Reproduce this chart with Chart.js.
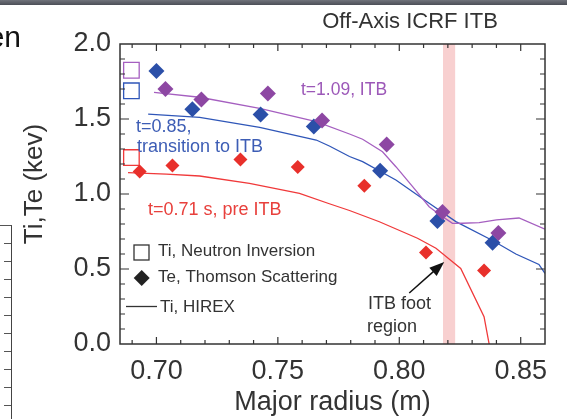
<!DOCTYPE html>
<html>
<head>
<meta charset="utf-8">
<script src="https://cdn.jsdelivr.net/npm/chart.js@4.4.0/dist/chart.umd.min.js"></script>
<style>
  html, body { margin: 0; padding: 0; background: #fff; }
  #wrap { position: relative; width: 567px; height: 419px; overflow: hidden; font-family: "Liberation Sans", Arial, sans-serif; }
  #topband { position: absolute; left: 0; top: 0; width: 567px; height: 5px; background: linear-gradient(#70737b, #4c4f57); }
  #en { position: absolute; right: 546px; top: 20px; font-size: 30px; color: #111; white-space: nowrap; }
  #sideaxis { position: absolute; left: 0; top: 225px; width: 11px; height: 194px; border-top: 1px solid #555; border-right: 1.5px solid #444; }
  #sideticks { position: absolute; left: 4px; top: 0; width: 7px; height: 100%;
    background: repeating-linear-gradient(to bottom, transparent 0 17px, #555 17px 18px); }
  canvas { position: absolute; left: 0; top: 0; }
</style>
</head>
<body>
<div id="wrap">
  <canvas id="itbChart" width="567" height="419"></canvas>
  <div id="topband"></div>
  <div id="en">en</div>
  <div id="sideaxis"><div id="sideticks"></div></div>
</div>
<script>
// Te, Thomson scattering (diamonds)
const teR109 = [0.7037, 0.7185, 0.7459, 0.7682, 0.7948, 0.8178, 0.8408];
const teV109 = [1.70, 1.63, 1.67, 1.49, 1.33, 0.88, 0.74];
const teR085 = [0.7000, 0.7148, 0.7429, 0.7648, 0.7921, 0.8157, 0.8384];
const teV085 = [1.82, 1.565, 1.53, 1.45, 1.155, 0.82, 0.675];
const teR071 = [0.6931, 0.7066, 0.7346, 0.7582, 0.7856, 0.8110, 0.8349];
const teV071 = [1.15, 1.19, 1.23, 1.18, 1.055, 0.61, 0.49];

// Ti, neutron inversion (open squares) : t=1.09, 0.85, 0.71
const tiNeutronR = [0.6897, 0.6897, 0.6897];
const tiNeutronV = [1.825, 1.688, 1.243];

// Ti, HIREX (lines)
const hxR109 = [0.699, 0.7178, 0.7425, 0.7658, 0.7795, 0.7849, 0.7931, 0.7986, 0.8055, 0.8123, 0.8178, 0.8219, 0.8260, 0.8329, 0.8400, 0.8493, 0.8600];
const hxV109 = [1.678, 1.645, 1.571, 1.482, 1.40, 1.365, 1.282, 1.182, 1.049, 0.915, 0.849, 0.804, 0.805, 0.809, 0.827, 0.840, 0.765];
const hxR085 = [0.6966, 0.7178, 0.7425, 0.7658, 0.7712, 0.7795, 0.7849, 0.7986, 0.8123, 0.8233, 0.8384, 0.8480, 0.8575, 0.8600];
const hxV085 = [1.533, 1.511, 1.444, 1.36, 1.32, 1.25, 1.216, 1.093, 0.938, 0.816, 0.69, 0.60, 0.53, 0.47];
const hxR071 = [0.6883, 0.7041, 0.7178, 0.7383, 0.7589, 0.7712, 0.7795, 0.7918, 0.8075, 0.8151, 0.8219, 0.8253, 0.8349, 0.8370];
const hxV071 = [1.142, 1.133, 1.12, 1.071, 1.004, 0.935, 0.89, 0.815, 0.705, 0.638, 0.549, 0.504, 0.182, 0.0];

const xTicks = [0.70, 0.75, 0.80, 0.85];
const yTicks = [0.0, 0.5, 1.0, 1.5, 2.0];
const footBand = [0.818, 0.823];

const PURPLE = '#8d47a3', PURPLE_LINE = '#a55fc0';
const BLUE = '#2b4fa8', BLUE_LINE = '#2f56b8';
const RED = '#e8302b', RED_LINE = '#f0393a';
const INK = '#333';
const FONT = '"Liberation Sans", Arial, sans-serif';

const pts = (xs, ys) => xs.map((x, i) => ({ x: x, y: ys[i] }));

function diamonds(label, xs, ys, color, r, order) {
  return { type: 'scatter', label: label, data: pts(xs, ys), pointStyle: 'rectRot',
    pointRadius: r, pointBackgroundColor: color, pointBorderColor: color, pointBorderWidth: 0, order: order };
}
function hirex(label, xs, ys, color) {
  return { type: 'line', label: label, data: pts(xs, ys), borderColor: color, borderWidth: 1.3,
    pointRadius: 0, tension: 0, fill: false, order: 5 };
}

// band, frame, inward ticks, labels, arrow
const decor = {
  id: 'decor',
  beforeDatasetsDraw(chart) {
    const { ctx, chartArea: a, scales: { x } } = chart;
    ctx.save();
    ctx.fillStyle = 'rgba(240,150,150,0.45)';
    const x0 = x.getPixelForValue(footBand[0]), x1 = x.getPixelForValue(footBand[1]);
    ctx.fillRect(x0, a.top, x1 - x0, a.bottom - a.top);
    ctx.restore();
  },
  afterDatasetsDraw(chart) {
    const { ctx, chartArea: a, scales: { x, y } } = chart;
    ctx.save();
    ctx.strokeStyle = INK;
    ctx.lineWidth = 1.5;
    ctx.strokeRect(a.left, a.top, a.right - a.left, a.bottom - a.top);
    ctx.lineWidth = 1.2;
    ctx.beginPath();
    for (let k = 69; k <= 86; k++) {
      const v = k / 100, px = x.getPixelForValue(v);
      if (px < a.left + 2 || px > a.right - 2) continue;
      const len = (k % 5 === 0) ? 7 : 4;
      ctx.moveTo(px, a.bottom); ctx.lineTo(px, a.bottom - len);
      ctx.moveTo(px, a.top); ctx.lineTo(px, a.top + len);
    }
    for (let k = 1; k < 20; k++) {
      const py = y.getPixelForValue(k / 10);
      const len = (k % 5 === 0) ? 9 : 5;
      ctx.moveTo(a.left, py); ctx.lineTo(a.left + len, py);
      ctx.moveTo(a.right, py); ctx.lineTo(a.right - len, py);
    }
    ctx.stroke();
    ctx.restore();
  },
  afterDraw(chart) {
    const { ctx, scales: { x, y } } = chart;
    ctx.save();
    ctx.textBaseline = 'middle';
    ctx.textAlign = 'center';
    ctx.fillStyle = INK;
    ctx.font = '22px ' + FONT;
    ctx.fillText('Off-Axis ICRF ITB', 410, 22);

    // y axis title
    ctx.save();
    ctx.translate(35, 184);
    ctx.rotate(-Math.PI / 2);
    ctx.font = '26px ' + FONT;
    ctx.fillText('Ti,Te (kev)', 0, 0);
    ctx.restore();

    ctx.textAlign = 'left';
    ctx.font = '17.5px ' + FONT;
    ctx.fillStyle = '#9c58b8';
    ctx.fillText('t=1.09, ITB', 301, 90);
    ctx.font = '18px ' + FONT;
    ctx.fillStyle = '#3d5db5';
    ctx.fillText('t=0.85,', 136, 127);
    ctx.fillText('transition to ITB', 137, 147);
    ctx.fillStyle = '#e8403c';
    ctx.fillText('t=0.71 s, pre ITB', 148, 210);

    // legend
    ctx.fillStyle = INK;
    ctx.font = '17px ' + FONT;
    ctx.fillText('Ti, Neutron Inversion', 158, 251);
    ctx.fillText('Te, Thomson Scattering', 158, 277);
    ctx.fillText('Ti, HIREX', 160, 307);
    ctx.strokeStyle = INK;
    ctx.lineWidth = 1.3;
    ctx.strokeRect(134, 245, 15, 15);
    ctx.fillStyle = '#222';
    ctx.beginPath();
    ctx.moveTo(141.7, 270); ctx.lineTo(149.7, 278); ctx.lineTo(141.7, 286); ctx.lineTo(133.7, 278);
    ctx.closePath(); ctx.fill();
    ctx.beginPath();
    ctx.moveTo(126, 306.5); ctx.lineTo(157, 306.5); ctx.stroke();

    // ITB foot annotation
    ctx.fillStyle = INK;
    ctx.font = '18px ' + FONT;
    ctx.fillText('ITB foot', 368, 304);
    ctx.fillText('region', 367, 327);
    const tx = x.getPixelForValue(0.8041), ty = y.getPixelForValue(0.34);
    const hx = x.getPixelForValue(0.8185), hy = y.getPixelForValue(0.547);
    const ang = Math.atan2(hy - ty, hx - tx);
    ctx.strokeStyle = '#111';
    ctx.lineWidth = 1.5;
    ctx.beginPath(); ctx.moveTo(tx, ty);
    ctx.lineTo(hx - 10 * Math.cos(ang), hy - 10 * Math.sin(ang)); ctx.stroke();
    ctx.fillStyle = '#111';
    ctx.beginPath();
    ctx.moveTo(hx, hy);
    ctx.lineTo(hx - 15 * Math.cos(ang) + 5.5 * Math.sin(ang), hy - 15 * Math.sin(ang) - 5.5 * Math.cos(ang));
    ctx.lineTo(hx - 15 * Math.cos(ang) - 5.5 * Math.sin(ang), hy - 15 * Math.sin(ang) + 5.5 * Math.cos(ang));
    ctx.closePath(); ctx.fill();
    ctx.restore();
  }
};

new Chart(document.getElementById('itbChart'), {
  type: 'scatter',
  data: {
    datasets: [
      diamonds('Te t=1.09', teR109, teV109, PURPLE, 8, 0),
      diamonds('Te t=0.85', teR085, teV085, BLUE, 8, 1),
      diamonds('Te t=0.71', teR071, teV071, RED, 7, 2),
      { type: 'scatter', label: 'Ti neutron', data: pts(tiNeutronR, tiNeutronV), pointStyle: 'rect',
        pointRadius: 11, pointBackgroundColor: '#fff', pointBorderColor: [PURPLE_LINE, BLUE_LINE, RED_LINE],
        pointBorderWidth: 1.3, order: 3 },
      hirex('HIREX t=1.09', hxR109, hxV109, PURPLE_LINE),
      hirex('HIREX t=0.85', hxR085, hxV085, BLUE_LINE),
      hirex('HIREX t=0.71', hxR071, hxV071, RED_LINE)
    ]
  },
  options: {
    responsive: false,
    animation: false,
    layout: { padding: { left: 0, right: 22, top: 44, bottom: 0 } },
    plugins: { legend: { display: false }, tooltip: { enabled: false } },
    scales: {
      x: {
        type: 'linear', min: 0.685, max: 0.86,
        afterFit(s) { s.height = 75; },
        afterBuildTicks(s) { s.ticks = xTicks.map(v => ({ value: v })); },
        grid: { display: false, drawTicks: false },
        border: { display: false },
        ticks: { padding: 11, color: INK, font: { size: 27, family: FONT }, callback: v => v.toFixed(2) },
        title: { display: true, text: 'Major radius (m)', color: INK,
          font: { size: 27, family: FONT, lineHeight: 1.2 }, padding: { top: 0, bottom: 0 } }
      },
      y: {
        type: 'linear', min: 0, max: 2.0,
        afterFit(s) { s.width = 120; },
        afterBuildTicks(s) { s.ticks = yTicks.map(v => ({ value: v })); },
        grid: { display: false, drawTicks: false },
        border: { display: false },
        ticks: { padding: 9, color: INK, font: { size: 27, family: FONT }, callback: v => v.toFixed(1) },
        title: { display: false }
      }
    }
  },
  plugins: [decor]
});
</script>
</body>
</html>
